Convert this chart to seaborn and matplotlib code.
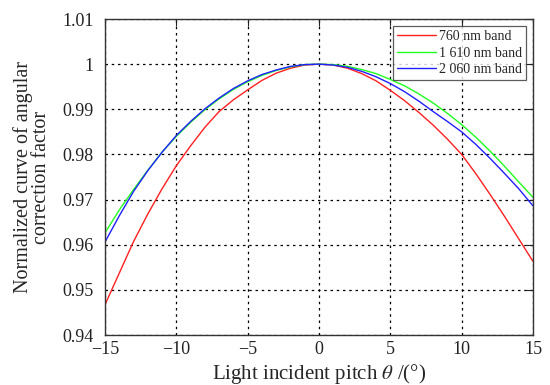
import numpy as np
import pandas as pd
import matplotlib
matplotlib.use("Agg")
import matplotlib.pyplot as plt
import seaborn as sns

# Incident pitch angle (degrees)
theta = list(range(-15, 16))

# Normalized angular correction factor for each spectral band
band_760 = [0.9467, 0.9537, 0.9607, 0.9668, 0.9724, 0.9775, 0.9819, 0.9860,
            0.9895, 0.9921, 0.9943, 0.9964, 0.9980, 0.9991, 0.9998, 1.0000,
            0.9998, 0.9991, 0.9979, 0.9963, 0.9942, 0.9919, 0.9893, 0.9865,
            0.9834, 0.9800, 0.9757, 0.9711, 0.9663, 0.9613, 0.9563]
band_1610 = [0.9626, 0.9677, 0.9722, 0.9765, 0.9805, 0.9840, 0.9871, 0.9899,
             0.9923, 0.9944, 0.9961, 0.9975, 0.9986, 0.9994, 0.9999, 1.0000,
             0.9999, 0.9995, 0.9988, 0.9979, 0.9966, 0.9952, 0.9934, 0.9914,
             0.9891, 0.9866, 0.9838, 0.9807, 0.9774, 0.9739, 0.9705]
band_2060 = [0.9606, 0.9664, 0.9718, 0.9764, 0.9805, 0.9842, 0.9873, 0.9901,
             0.9925, 0.9946, 0.9963, 0.9977, 0.9987, 0.9995, 0.9999, 1.0000,
             0.9998, 0.9993, 0.9984, 0.9972, 0.9957, 0.9939, 0.9918, 0.9895,
             0.9873, 0.9850, 0.9822, 0.9791, 0.9758, 0.9724, 0.9686]

series_names = ["760 nm band", "1 610 nm band", "2 060 nm band"]
series_colors = ["#ff2020", "#20ff20", "#2020ff"]

x_ticks = [-15, -10, -5, 0, 5, 10, 15]
y_ticks = [0.94, 0.95, 0.96, 0.97, 0.98, 0.99, 1.00, 1.01]
y_tick_labels = ["0.94", "0.95", "0.96", "0.97", "0.98", "0.99", "1", "1.01"]

df = pd.concat([
    pd.DataFrame({"theta": theta, "value": vals, "band": name})
    for name, vals in zip(series_names, [band_760, band_1610, band_2060])
], ignore_index=True)

sns.set_style("white")
plt.rcParams["font.family"] = ["Liberation Serif", "DejaVu Serif"]
plt.rcParams["mathtext.fontset"] = "stix"

fig = plt.figure(figsize=(5.5, 3.85), dpi=100)
ax = fig.add_axes([105 / 550, 50 / 385, 428 / 550, 316 / 385])

sns.lineplot(data=df, x="theta", y="value", hue="band",
             palette=dict(zip(series_names, series_colors)),
             hue_order=series_names, linewidth=1.0, ax=ax)

ax.set_xlim(-15, 15)
ax.set_ylim(0.94, 1.01)
ax.set_xticks(x_ticks)
ax.set_yticks(y_ticks)
ax.set_yticklabels(y_tick_labels)

ax.grid(True, color="black", linestyle=(0, (2, 3)), linewidth=0.9)
for spine in ax.spines.values():
    spine.set_visible(True)
    spine.set_color("#333333")
    spine.set_linewidth(1.0)

ax.tick_params(axis="both", direction="in", length=5, width=0.8,
               top=True, right=True, labelsize=13, colors="#222222")
ax.tick_params(axis="y", pad=8)
ax.tick_params(axis="x", pad=4)

ax.set_xlabel("Light incident pitch $\\theta$ /(°)", fontsize=15, labelpad=3.5)
ax.set_ylabel("Normalized curve of angular\ncorrection factor", fontsize=14.5,
              labelpad=8, linespacing=0.95)

leg = ax.legend(loc="upper right", fontsize=10, frameon=True, fancybox=False,
                edgecolor="#333333", handlelength=2.8, handletextpad=0.2,
                labelspacing=0.25, borderpad=0.3, borderaxespad=0.5)
leg.get_frame().set_linewidth(0.9)

fig.savefig("out.png", dpi=100, facecolor="white")
